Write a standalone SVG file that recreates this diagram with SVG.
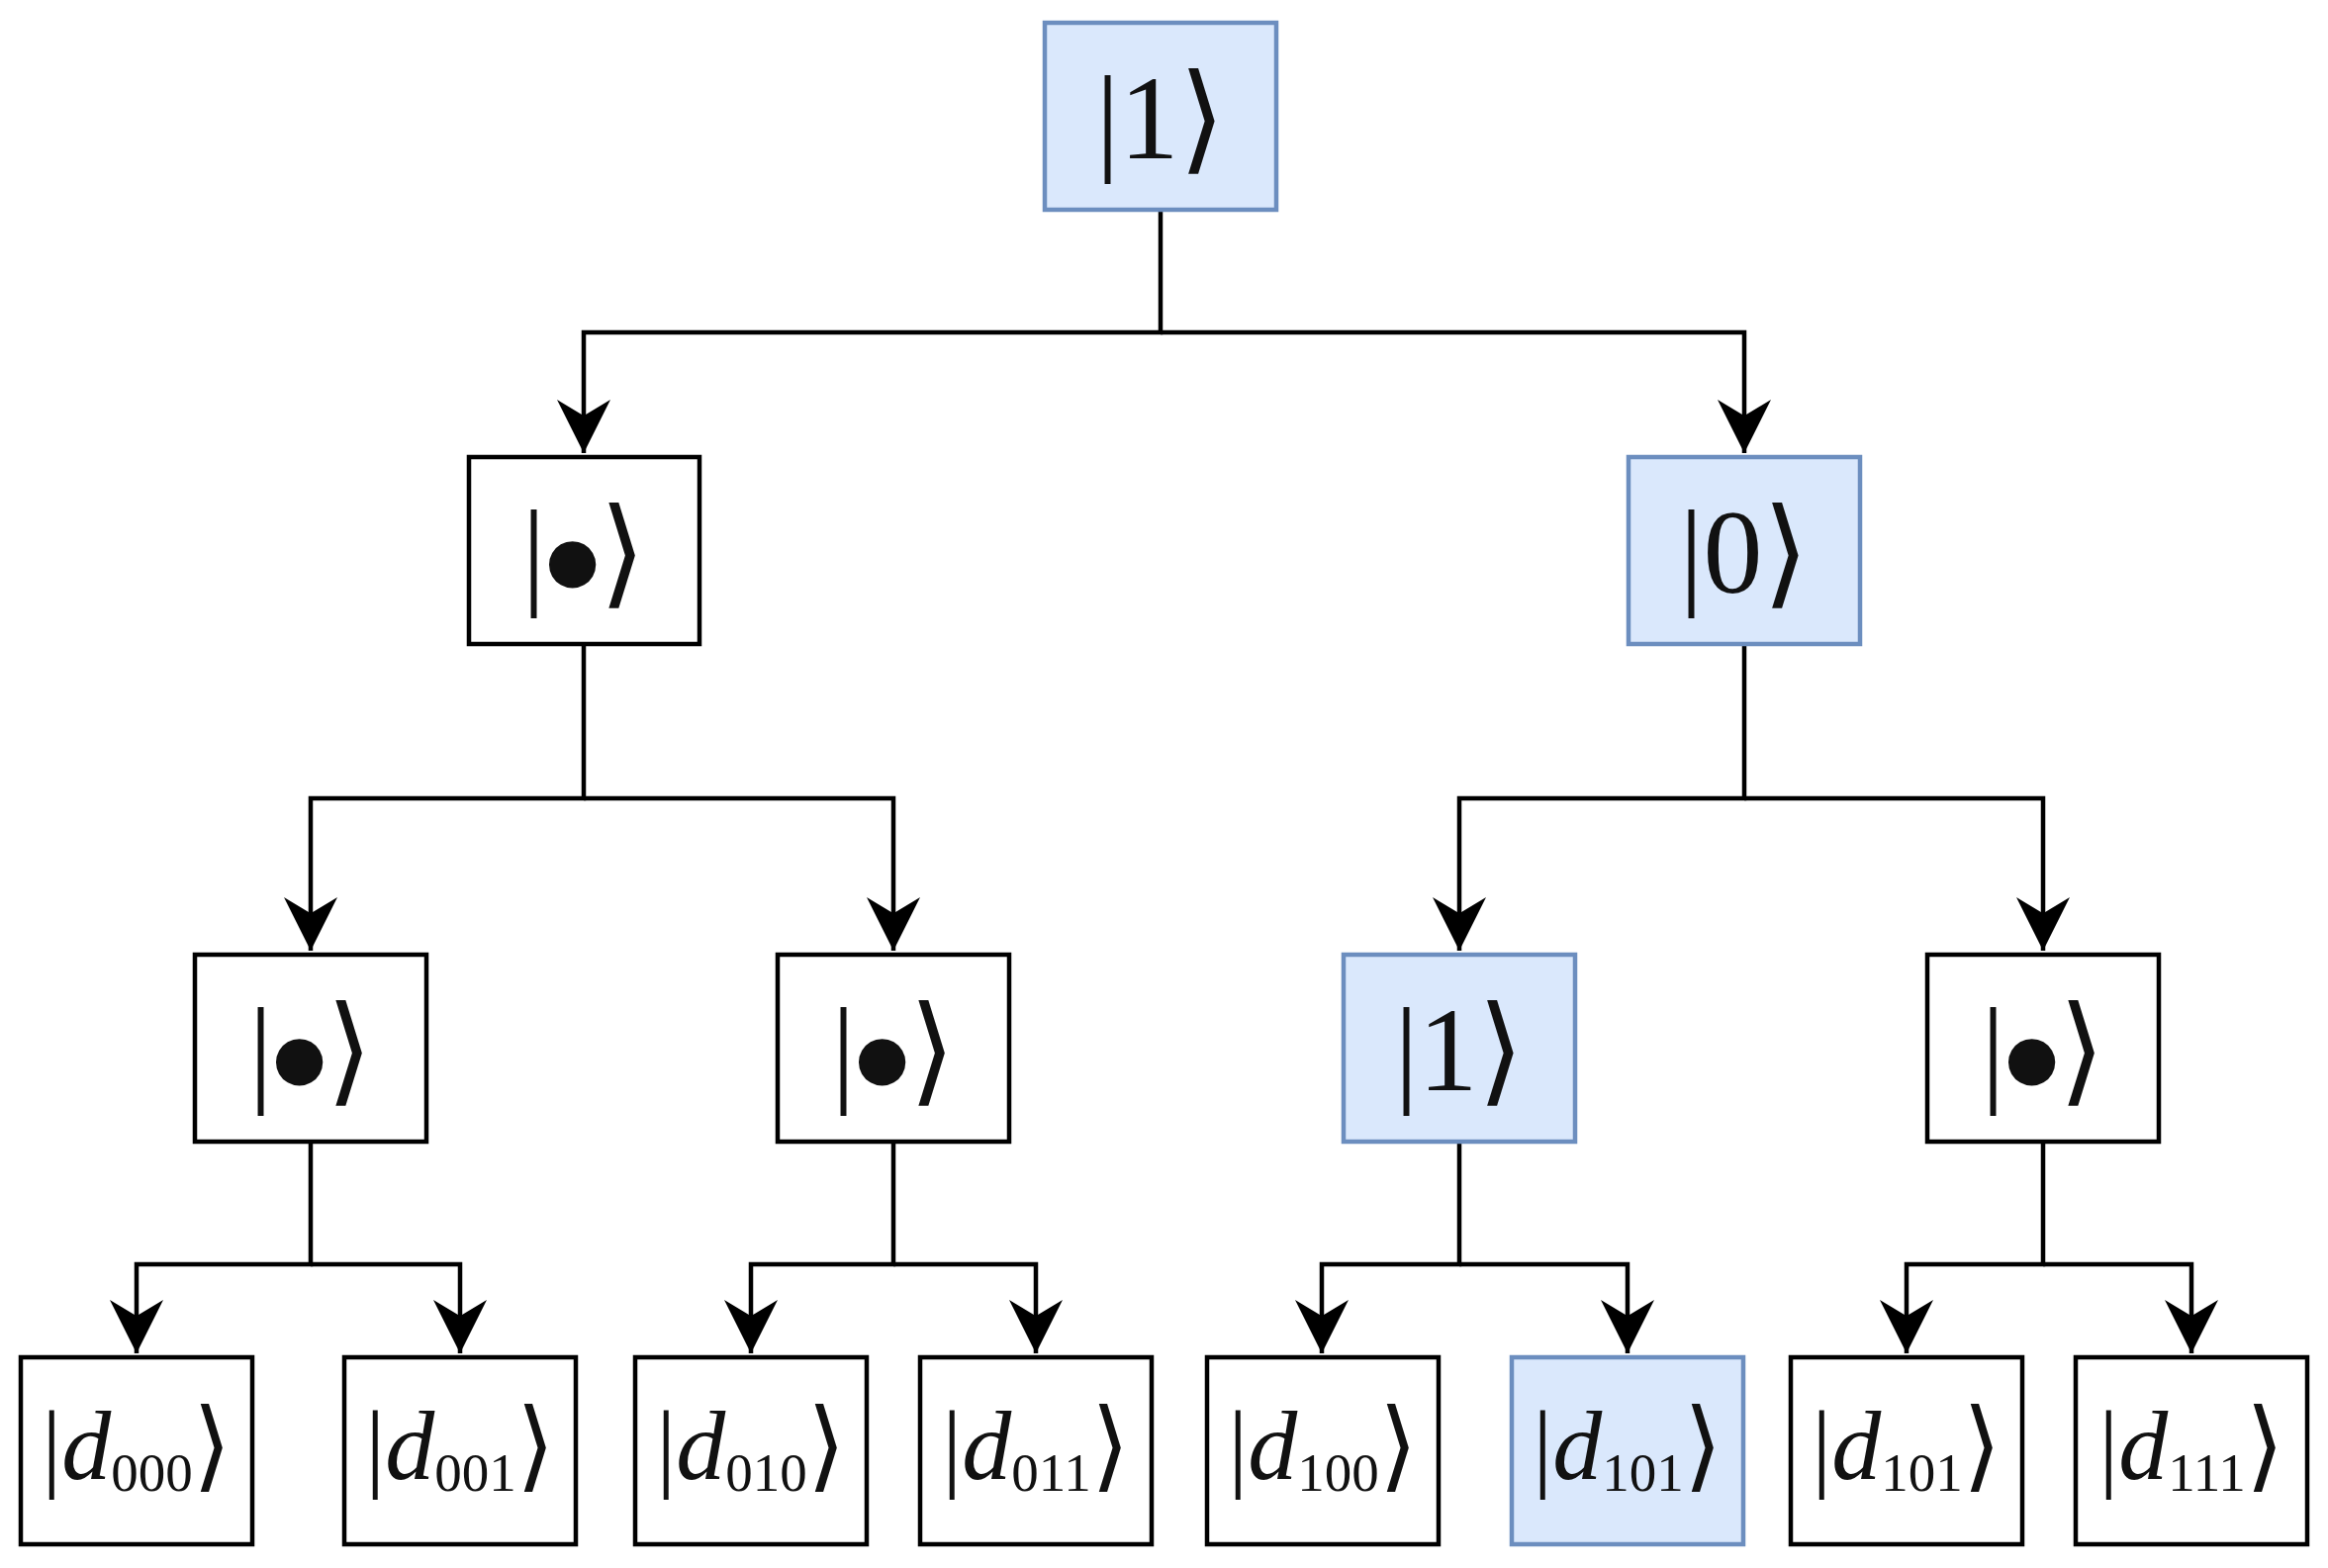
<svg xmlns="http://www.w3.org/2000/svg" width="2353" height="1585" viewBox="0 0 2353 1585">
<style>
.n{fill:#fff;stroke:#000;stroke-width:4.5}
.b{fill:#dae8fc;stroke:#6c8ebf;stroke-width:4.5}
.t{font-family:"Liberation Serif","DejaVu Serif",serif;font-size:120px;text-anchor:middle;fill:#111}
.s{font-family:"Liberation Serif","DejaVu Serif",serif;font-size:100px;text-anchor:middle;fill:#111}
.e{fill:none;stroke:#000;stroke-width:4.5}
.d{font-size:55px}
.o{font-family:"DejaVu Sans",sans-serif;font-size:62px}
</style>
<defs><marker id="m" viewBox="0 0 10 10" refX="10" refY="5" markerWidth="12" markerHeight="12" orient="auto"><path d="M0,0 L10,5 L0,10 L3,5 Z" fill="#000"/></marker></defs>
<g id="edges">
<path class="e" marker-end="url(#m)" d="M1173,212 V336 H590 V458"/>
<path class="e" marker-end="url(#m)" d="M1173,336 H1763 V458"/>
<path class="e" marker-end="url(#m)" d="M590,651 V807 H314 V961"/>
<path class="e" marker-end="url(#m)" d="M590,807 H903 V961"/>
<path class="e" marker-end="url(#m)" d="M1763,651 V807 H1475 V961"/>
<path class="e" marker-end="url(#m)" d="M1763,807 H2065 V961"/>
<path class="e" marker-end="url(#m)" d="M314,1154 V1278 H138 V1368"/>
<path class="e" marker-end="url(#m)" d="M314,1278 H465 V1368"/>
<path class="e" marker-end="url(#m)" d="M903,1154 V1278 H759 V1368"/>
<path class="e" marker-end="url(#m)" d="M903,1278 H1047 V1368"/>
<path class="e" marker-end="url(#m)" d="M1475,1154 V1278 H1336 V1368"/>
<path class="e" marker-end="url(#m)" d="M1475,1278 H1645 V1368"/>
<path class="e" marker-end="url(#m)" d="M2065,1154 V1278 H1927 V1368"/>
<path class="e" marker-end="url(#m)" d="M2065,1278 H2215 V1368"/>
</g>
<g id="root"><rect class="b" x="1056" y="23" width="234" height="189"/><text class="t" x="1173" y="160">|1⟩</text></g>
<g id="l1a"><rect class="n" x="474" y="462" width="233" height="189"/><text class="t" x="590" y="599">|<tspan class="o" dy="-12">●</tspan><tspan dy="12">⟩</tspan></text></g>
<g id="l1b"><rect class="b" x="1646" y="462" width="234" height="189"/><text class="t" x="1763" y="599">|0⟩</text></g>
<g id="l2a"><rect class="n" x="197" y="965" width="234" height="189"/><text class="t" x="314" y="1102">|<tspan class="o" dy="-12">●</tspan><tspan dy="12">⟩</tspan></text></g>
<g id="l2b"><rect class="n" x="786" y="965" width="234" height="189"/><text class="t" x="903" y="1102">|<tspan class="o" dy="-12">●</tspan><tspan dy="12">⟩</tspan></text></g>
<g id="l2c"><rect class="b" x="1358" y="965" width="234" height="189"/><text class="t" x="1475" y="1102">|1⟩</text></g>
<g id="l2d"><rect class="n" x="1948" y="965" width="234" height="189"/><text class="t" x="2065" y="1102">|<tspan class="o" dy="-12">●</tspan><tspan dy="12">⟩</tspan></text></g>
<g id="d000"><rect class="n" x="21" y="1372" width="234" height="189"/><text class="s" x="138" y="1495">|<tspan font-style="italic">d</tspan><tspan class="d" dy="12">000</tspan><tspan dy="-12">⟩</tspan></text></g>
<g id="d001"><rect class="n" x="348" y="1372" width="234" height="189"/><text class="s" x="465" y="1495">|<tspan font-style="italic">d</tspan><tspan class="d" dy="12">001</tspan><tspan dy="-12">⟩</tspan></text></g>
<g id="d010"><rect class="n" x="642" y="1372" width="234" height="189"/><text class="s" x="759" y="1495">|<tspan font-style="italic">d</tspan><tspan class="d" dy="12">010</tspan><tspan dy="-12">⟩</tspan></text></g>
<g id="d011"><rect class="n" x="930" y="1372" width="234" height="189"/><text class="s" x="1047" y="1495">|<tspan font-style="italic">d</tspan><tspan class="d" dy="12">011</tspan><tspan dy="-12">⟩</tspan></text></g>
<g id="d100"><rect class="n" x="1220" y="1372" width="234" height="189"/><text class="s" x="1337" y="1495">|<tspan font-style="italic">d</tspan><tspan class="d" dy="12">100</tspan><tspan dy="-12">⟩</tspan></text></g>
<g id="d101a"><rect class="b" x="1528" y="1372" width="234" height="189"/><text class="s" x="1645" y="1495">|<tspan font-style="italic">d</tspan><tspan class="d" dy="12">101</tspan><tspan dy="-12">⟩</tspan></text></g>
<g id="d101b"><rect class="n" x="1810" y="1372" width="234" height="189"/><text class="s" x="1927" y="1495">|<tspan font-style="italic">d</tspan><tspan class="d" dy="12">101</tspan><tspan dy="-12">⟩</tspan></text></g>
<g id="d111"><rect class="n" x="2098" y="1372" width="234" height="189"/><text class="s" x="2215" y="1495">|<tspan font-style="italic">d</tspan><tspan class="d" dy="12">111</tspan><tspan dy="-12">⟩</tspan></text></g>
</svg>
